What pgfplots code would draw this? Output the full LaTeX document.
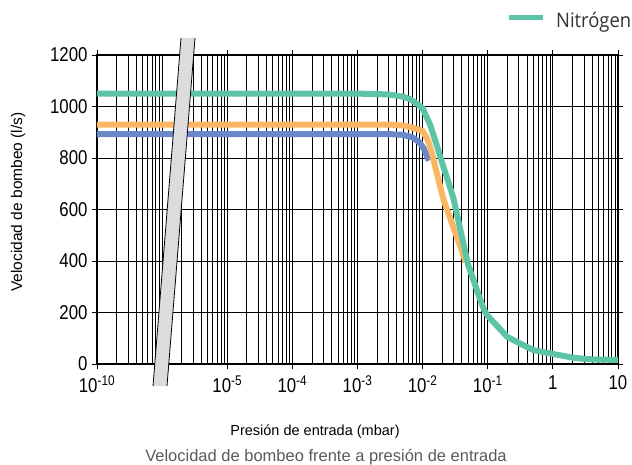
\documentclass[border=0pt]{standalone}
\usepackage{pgfplots}
\pgfplotsset{compat=1.18}
\usepackage{pgfplotstable}
\usepackage{fontspec}
\setmainfont{Liberation Sans}
\newfontfamily\tickfont[FakeStretch=0.84]{Liberation Sans}
\newfontfamily\legfont[FakeStretch=0.92]{Open Sans}
\definecolor{cgreen}{RGB}{94,196,168}
\definecolor{corange}{RGB}{251,182,100}
\definecolor{cblue}{RGB}{106,136,200}
\definecolor{cbreak}{RGB}{220,220,222}
\definecolor{ctitle}{RGB}{90,90,90}

\pgfplotstableread{
x y
1e-7 1050
1e-3 1050
3e-3 1047
5e-3 1038
6.5e-3 1028
8e-3 1013
1e-2 993
1.3e-2 930
1.6e-2 860
2e-2 780
2.5e-2 705
3e-2 640
4e-2 495
5e-2 385
6e-2 328
7e-2 279
8e-2 237
9e-2 205
1e-1 187
1.5e-1 139
2e-1 105
3e-1 82
5e-1 54
1 39
2 25
3 20
5 17
10 16
}\nitrogen

\pgfplotstableread{
x y
1e-7 930
3e-3 930
5e-3 926
7e-3 918
1e-2 905
1.2e-2 870
1.4e-2 815
1.6e-2 755
2.1e-2 637
3e-2 528
4e-2 440
4.6e-2 396
}\orangedata

\pgfplotstableread{
x y
1e-7 893
3e-3 893
5e-3 890
7e-3 880
9e-3 860
1.05e-2 835
1.2e-2 800
1.25e-2 790
}\bluedata

\begin{document}
\begin{tikzpicture}
\useasboundingbox (0pt,0pt) rectangle (632pt,-465pt);
\begin{axis}[
  at={(97pt,-364pt)}, anchor=south west,
  scale only axis, width=521pt, height=309pt,
  xmode=log, xmin=1e-7, xmax=10, ymin=0, ymax=1200,
  xtick={1e-7,1e-5,1e-4,1e-3,1e-2,1e-1,1,10},
  xticklabels={10\textsuperscript{-10},10\textsuperscript{-5},10\textsuperscript{-4},10\textsuperscript{-3},10\textsuperscript{-2},10\textsuperscript{-1},1,10},
  minor xtick={2e-7,3e-7,4e-7,5e-7,6e-7,7e-7,8e-7,9e-7,1e-6,
    2e-6,3e-6,4e-6,5e-6,6e-6,7e-6,8e-6,9e-6,
    2e-5,3e-5,4e-5,5e-5,6e-5,7e-5,8e-5,9e-5,
    2e-4,3e-4,4e-4,5e-4,6e-4,7e-4,8e-4,9e-4,
    2e-3,3e-3,4e-3,5e-3,6e-3,7e-3,8e-3,9e-3,
    2e-2,3e-2,4e-2,5e-2,6e-2,7e-2,8e-2,9e-2,
    2e-1,3e-1,4e-1,5e-1,6e-1,7e-1,8e-1,9e-1,
    2,3,4,5,6,7,8,9},
  ytick={0,200,400,600,800,1000,1200},
  yticklabels={0,200,400,600,800,1000,1200},
  grid=both,
  major grid style={black, line width=0.75pt},
  minor grid style={black, line width=0.75pt},
  tick align=outside, major tick length=5pt, minor tick length=0pt,
  tick style={black, line width=0.9pt},
  axis line style={black, line width=1.2pt},
  ticklabel style={font=\tickfont\fontsize{20}{21}\selectfont},
  xticklabel style={yshift=-3pt},
  yticklabel style={xshift=-1pt},
  legend style={at={(0.785,1.11)}, anchor=west, draw=none, fill=none,
    font=\legfont\fontsize{20}{22}\selectfont, text=black!80,
    inner sep=0pt, column sep=9pt},
  legend image code/.code={\draw[#1, line width=5pt] (0pt,0.35em) -- (34pt,0.35em);},
]
\addplot[cblue, line width=6pt, forget plot] table {\bluedata};
\addplot[corange, line width=6pt, forget plot] table {\orangedata};
\addplot[cgreen, line width=6pt] table {\nitrogen};
\addlegendentry{Nitrógen}
\end{axis}
\fill[cbreak] (153pt,-386pt) -- (167pt,-386pt) -- (195pt,-38pt) -- (181pt,-38pt) -- cycle;
\draw[black, line width=0.8pt] (153pt,-386pt) -- (181pt,-38pt);
\draw[black, line width=0.8pt] (167pt,-386pt) -- (195pt,-38pt);
\node[font=\fontsize{14.5}{16}\selectfont] at (315pt,-432pt) {Presión de entrada (mbar)};
\node[font=\fontsize{15.5}{17}\selectfont, rotate=90] at (18pt,-202pt) {Velocidad de bombeo (l/s)};
\node[font=\fontsize{16.5}{18}\selectfont, text=ctitle] at (326pt,-457pt) {Velocidad de bombeo frente a presión de entrada};
\end{tikzpicture}
\end{document}
